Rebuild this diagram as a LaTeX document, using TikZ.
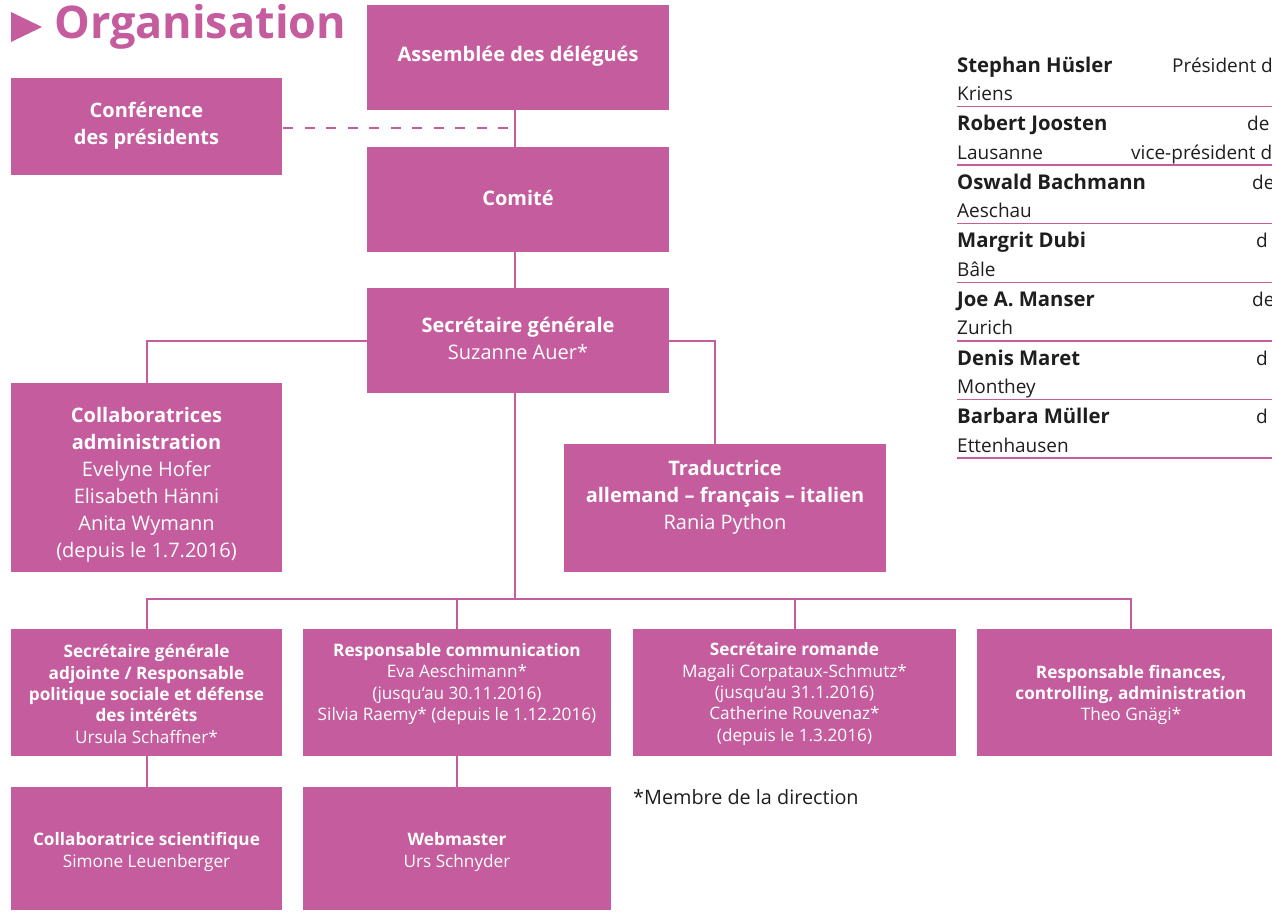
\documentclass[tikz,border=0pt]{standalone}
\usepackage{fontspec}
\setmainfont{Open Sans}
\definecolor{pk}{RGB}{196,92,158}
\definecolor{ink}{RGB}{30,30,30}
\begin{document}
\begin{tikzpicture}[x=1pt,y=-1pt,
  box/.style={fill=pk, inner sep=0pt, outer sep=0pt, anchor=north west},
  big/.style={text=white, align=center, inner sep=0pt, font=\fontsize{20}{27}\selectfont},
  small/.style={text=white, align=center, inner sep=0pt, font=\fontsize{17.2}{21.3}\selectfont},
  conn/.style={draw=pk, line width=2pt},
  rule/.style={draw=pk, line width=1.5pt},
  nm/.style={anchor=base west, inner sep=0pt, text=ink, font=\fontsize{20.3}{22}\selectfont\bfseries},
  ct/.style={anchor=base west, inner sep=0pt, text=ink, font=\fontsize{19}{21}\selectfont}]
\clip (0,0) rectangle (1272,911);
% title
\fill[pk] (11,12) -- (42,27) -- (11,42) -- cycle;
\node[anchor=west, inner sep=0pt, text=pk, font=\fontsize{45}{48}\selectfont\bfseries] (title) at (54,27) {Organisation};
% boxes
\node[box, minimum width=302pt, minimum height=105pt] (ad) at (367,5) {};
\node[box, minimum width=271pt, minimum height=97pt] (conf) at (11,78) {};
\node[box, minimum width=302pt, minimum height=105pt] (com) at (367,147) {};
\node[box, minimum width=302pt, minimum height=105pt] (sg) at (367,288) {};
\node[box, minimum width=271pt, minimum height=189pt] (coll) at (11,383) {};
\node[box, minimum width=322pt, minimum height=128pt] (trad) at (564,444) {};
\node[box, minimum width=271pt, minimum height=127pt] (b1) at (11,629) {};
\node[box, minimum width=308pt, minimum height=127pt] (b2) at (303,629) {};
\node[box, minimum width=323pt, minimum height=127pt] (b3) at (633,629) {};
\node[box, minimum width=307pt, minimum height=127pt] (b4) at (977,629) {};
\node[box, minimum width=271pt, minimum height=123pt] (b5) at (11,787) {};
\node[box, minimum width=308pt, minimum height=123pt] (b6) at (303,787) {};
% texts
\node[big] (t-ad) at ([yshift=1.5pt]ad.center) {\bfseries Assemblée des délégués};
\node[big] (t-conf) at ([yshift=0.5pt]conf.center) {\bfseries Conférence\\\bfseries des présidents};
\node[big] (t-com) at ([yshift=1.5pt]com.center) {\bfseries Comité};
\node[big] (t-sg) at ([yshift=2pt]sg.center) {\textbf{Secrétaire générale}\\Suzanne Auer*};
\node[big] (t-coll) at (146.5,485) {\textbf{Collaboratrices}\\\textbf{administration}\\Evelyne Hofer\\Elisabeth Hänni\\Anita Wymann\\(depuis le 1.7.2016)};
\node[big] (t-trad) at (725,497.5) {\textbf{Traductrice}\\\textbf{allemand – français – italien}\\Rania Python};
\node[small] (t-b1) at (146.5,694) {\textbf{Secrétaire générale}\\\textbf{adjointe / Responsable}\\\textbf{politique sociale et défense}\\\textbf{des intérêts}\\Ursula Schaffner*};
\node[small] (t-b2) at (457,684) {\textbf{Responsable communication}\\Eva Aeschimann*\\(jusqu‘au 30.11.2016)\\Silvia Raemy* (depuis le 1.12.2016)};
\node[small] (t-b3) at (794.5,694) {\textbf{Secrétaire romande}\\Magali Corpataux-Schmutz*\\(jusqu‘au 31.1.2016)\\Catherine Rouvenaz*\\(depuis le 1.3.2016)};
\node[small] (t-b4) at (1131,695) {\textbf{Responsable finances,}\\\textbf{controlling, administration}\\Theo Gnägi*};
\node[small] (t-b5) at (146.5,852) {\textbf{Collaboratrice scientifique}\\Simone Leuenberger};
\node[small] (t-b6) at (457,852) {\textbf{Webmaster}\\Urs Schnyder};
\node[anchor=west, inner sep=0pt, text=ink, font=\fontsize{19.8}{22}\selectfont] (foot) at (633,797.5) {*Membre de la direction};
% connectors
\coordinate (dj) at (514.5,128);
\coordinate (bus) at (514.5,598.5);
\coordinate (trin) at (714.5,444);
\draw[conn] ([xshift=-3.5pt]ad.south) -- ([xshift=-3.5pt]com.north);
\draw[conn] ([xshift=-3.5pt]com.south) -- ([xshift=-3.5pt]sg.north);
\draw[pk, line width=2.5pt, dash pattern=on 10pt off 11.5pt, dash phase=-1pt] (conf.east |- dj) -- (dj);
\draw[conn] (sg.west) -| (coll.north);
\draw[conn] (sg.east) -| (trin);
\draw[conn] ([xshift=-3.5pt]sg.south) -- (bus);
\draw[conn] (b1.north) -- (b1.north |- bus) -| (b4.north);
\draw[conn] (b2.north) -- (b2.north |- bus);
\draw[conn] (b3.north) -- (b3.north |- bus);
\draw[conn] (b1.south) -- (b5.north);
\draw[conn] (b2.south) -- (b6.north);
% table
\foreach \i/\n/\c in {0/Stephan Hüsler/Kriens,1/Robert Joosten/Lausanne,2/Oswald Bachmann/Aeschau,3/Margrit Dubi/Bâle,4/Joe A. Manser/Zurich,5/Denis Maret/Monthey,6/Barbara Müller/Ettenhausen}{
  \node[nm] (n\i) at (957,{72+58.6*\i}) {\n};
  \node[ct] (c\i) at (957,{100.5+58.6*\i}) {\c};
  \coordinate (r\i) at (1272,{106.5+58.6*\i});
  \draw[rule] (c\i.west |- r\i) -- (r\i);
}
\node[ct] (f0) at (1172,72) {Président d};
\node[ct] (f1) at (1247,130.6) {de};
\node[ct] (f1b) at (1131,159.1) {vice-président d};
\node[ct] (f2) at (1252,189.2) {de};
\node[ct] (f3) at (1256,247.8) {d};
\node[ct] (f4) at (1252,306.4) {de};
\node[ct] (f5) at (1256,365) {d};
\node[ct] (f6) at (1256,423.6) {d};
\end{tikzpicture}
\end{document}
